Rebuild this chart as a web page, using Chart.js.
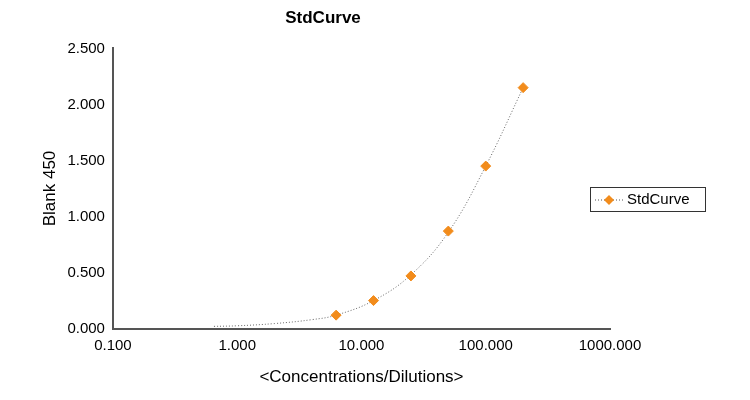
<!DOCTYPE html>
<html>
<head>
<script src="https://cdn.jsdelivr.net/npm/chart.js@4"></script>
<style>
body{margin:0;background:#fff}
</style>
</head>
<body>
<canvas id="myChart" width="750" height="400"></canvas>
<script>
// standards
const concentrations = [6.25, 12.5, 25, 50, 100, 200];
const blank450 = [0.12, 0.25, 0.47, 0.87, 1.45, 2.15];
// fitted curve, estimated by eye
const curveX = [0.65, 1, 2, 4, 6.25, 12.5, 25, 50, 100, 200];
const curveY = [0.02, 0.025, 0.045, 0.08, 0.12, 0.25, 0.48, 0.86, 1.45, 2.15];
const xTicks = [0.1, 1, 10, 100, 1000];

const legendBox = {
  id: 'legendBox',
  afterDraw(chart) {
    const c = chart.ctx;
    c.save();
    c.strokeStyle = '#333'; c.lineWidth = 1;
    c.strokeRect(590.5, 187.5, 115, 24);
    c.setLineDash([1, 2]); c.strokeStyle = '#555';
    c.beginPath(); c.moveTo(595, 200); c.lineTo(623, 200); c.stroke();
    c.setLineDash([]);
    c.fillStyle = '#f28c1c';
    c.beginPath(); c.moveTo(609, 195); c.lineTo(614, 200); c.lineTo(609, 205); c.lineTo(604, 200); c.closePath(); c.fill();
    c.fillStyle = '#000'; c.font = '15px Arial, "Liberation Sans"'; c.textBaseline = 'middle';
    c.fillText('StdCurve', 627, 200);
    c.restore();
  }
};

try {
const ctx = document.getElementById('myChart');
new Chart(ctx, {
  type: 'scatter',
  data: {
    datasets: [{
      label: 'StdCurve',
      data: concentrations.map((x, i) => ({x: x, y: blank450[i]})),
      backgroundColor: '#f28c1c',
      borderColor: '#f28c1c',
      pointStyle: 'rectRot',
      pointRadius: 5,
      pointHoverRadius: 5
    }, {
      label: 'fit',
      type: 'line',
      data: curveX.map((x, i) => ({x: x, y: curveY[i]})),
      borderColor: '#666',
      borderWidth: 1,
      borderDash: [1, 2],
      pointRadius: 0,
      tension: 0.4,
      fill: false
    }]
  },
  options: {
    responsive: false,
    animation: false,
    layout: {padding: {left: 36, right: 140, top: 6, bottom: 8}},
    plugins: {
      legend: {display: false},
      tooltip: {enabled: false},
      title: {display: true, text: 'StdCurve', color: '#000',
        font: {size: 17, weight: 'bold', family: 'Arial, "Liberation Sans"'}, padding: {top: 2, bottom: 20}}
    },
    scales: {
      x: {
        type: 'logarithmic', min: 0.1, max: 1000,
        afterBuildTicks: s => { s.ticks = xTicks.map(v => ({value: v})); },
        ticks: {color: '#000', font: {size: 15, family: 'Arial, "Liberation Sans"'}, callback: v => Number(v).toFixed(3), maxRotation: 0, autoSkip: false},
        grid: {display: false, drawTicks: true, tickLength: 5, color: '#555'},
        border: {color: '#555', width: 2},
        title: {display: true, text: '<Concentrations/Dilutions>', color: '#000', font: {size: 17, family: 'Arial, "Liberation Sans"'}, padding: {top: 10}}
      },
      y: {
        min: 0, max: 2.5,
        ticks: {stepSize: 0.5, color: '#000', font: {size: 15, family: 'Arial, "Liberation Sans"'}, callback: v => Number(v).toFixed(3)},
        grid: {display: false, tickLength: 5},
        border: {color: '#555', width: 2},
        title: {display: true, text: 'Blank 450', color: '#000', font: {size: 17, family: 'Arial, "Liberation Sans"'}}
      }
    }
  },
  plugins: [legendBox]
});
} catch (error) {
console.log(error);
}
</script>
</body>
</html>
